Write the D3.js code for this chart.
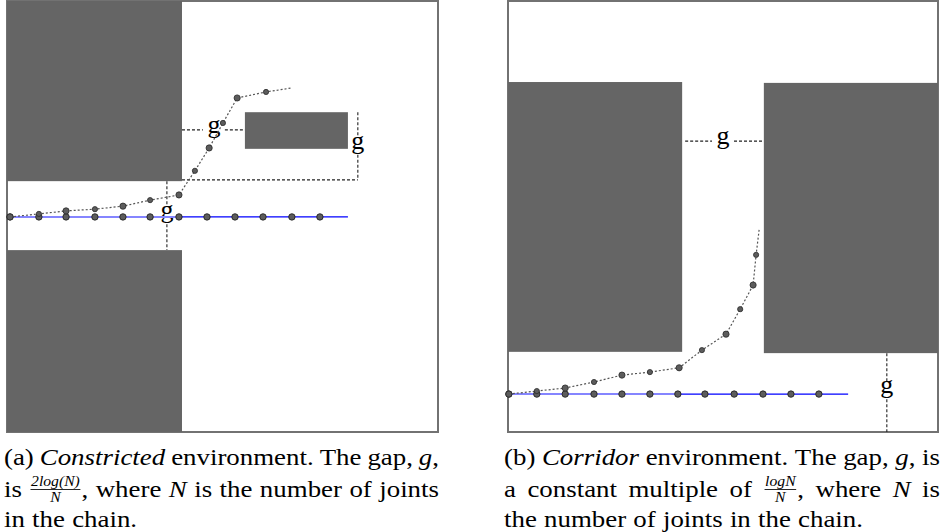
<!DOCTYPE html>
<html>
<head>
<meta charset="utf-8">
<script src="https://cdn.jsdelivr.net/npm/d3@7"></script>
<style>
  body { margin: 0; background: #fff; }
  svg { display: block; }
</style>
</head>
<body>
<svg id="fig"></svg>
<script>
"use strict";

// environment coordinates: each panel is 0..100 in both directions (y pointing down)

// (a) constricted environment
var constrictedBlocks = [
  [0, 0, 40.6, 41.8],
  [0, 57.8, 40.6, 100],
  [55.2, 25.8, 79.1, 34.3]
];
// dimension lines: x1, y1, x2, y2, label u, label v (null = no label)
var constrictedDims = [
  [40.6, 29.9, 55.2, 29.9, 48.0, 29.9],
  [81.4, 25.8, 81.4, 41.5, 81.4, 33.6],
  [40.6, 41.5, 81.4, 41.5, null, null],
  [37.1, 41.8, 37.1, 57.8, 37.1, 49.7]
];
var constrictedStraightU = [0.7, 7.4, 13.7, 20.4, 26.9, 33.2, 39.9, 46.4, 52.9, 59.4, 66.1, 72.6];
var constrictedStraightV = 50.1;
var constrictedLineEnd = 79.1;
var constrictedBentU = [0.7, 7.4, 13.7, 20.4, 26.9, 33.2, 39.9, 43.6, 46.9, 50.1, 53.4, 60.1, 65.9];
var constrictedBentV = [50.1, 49.4, 48.7, 48.3, 47.6, 46.2, 45.0, 39.4, 34.1, 28.3, 22.5, 21.1, 20.2];

// (b) corridor environment
var corridorBlocks = [
  [0, 18.8, 40.5, 81.4],
  [59.5, 19.0, 100, 81.7]
];
var corridorDims = [
  [41.2, 32.5, 59.1, 32.5, 50.0, 32.5],
  [88.1, 81.7, 88.1, 100, 88.1, 90.3]
];
var corridorStraightU = [0.2, 6.7, 13.3, 20.0, 26.5, 33.0, 39.5, 45.8, 52.6, 59.3, 65.8, 72.3];
var corridorStraightV = 91.2;
var corridorLineEnd = 79.1;
var corridorBentU = [0.2, 6.7, 13.3, 20.0, 26.5, 33.0, 39.8, 45.1, 50.7, 54.0, 57.0, 57.7, 58.4];
var corridorBentV = [91.2, 90.5, 89.8, 88.4, 86.8, 86.1, 85.1, 81.0, 77.3, 71.5, 65.9, 58.9, 53.1];

// captions: "|" splits a word into pieces, "_" = italic, "frac:num/den" = fraction
var captionA = [
  ["(a)", "_Constricted", "environment.", "The", "gap,", "_g|,"],
  ["is", "frac:2log(N)/N|,", "where", "_N", "is", "the", "number", "of", "joints"],
  ["in", "the", "chain."]
];
var captionB = [
  ["(b)", "_Corridor", "environment.", "The", "gap,", "_g|,", "is"],
  ["a", "constant", "multiple", "of", "frac:logN/N|,", "where", "_N", "is"],
  ["the", "number", "of", "joints", "in", "the", "chain."]
];

var FONT = "'Liberation Serif', 'DejaVu Serif', serif";
var svg = d3.select("#fig").attr("width", 950).attr("height", 532);

function drawPanel(box, blocks, dims, straightU, straightV, lineEnd, bentU, bentV) {
  var xs = d3.scaleLinear().domain([0, 100]).range([box.x, box.x + box.w]);
  var ys = d3.scaleLinear().domain([0, 100]).range([box.y, box.y + box.h]);
  var g = svg.append("g");

  g.append("rect")
    .attr("x", xs(0)).attr("y", ys(0))
    .attr("width", xs(100) - xs(0)).attr("height", ys(100) - ys(0))
    .style("fill", "#fff").style("stroke", "#727272").style("stroke-width", 2);

  g.selectAll("rect.block").data(blocks).enter().append("rect")
    .attr("class", "block")
    .attr("x", function (d) { return xs(d[0]); })
    .attr("y", function (d) { return ys(d[1]); })
    .attr("width", function (d) { return xs(d[2]) - xs(d[0]); })
    .attr("height", function (d) { return ys(d[3]) - ys(d[1]); })
    .style("fill", "#656565");

  // dimension lines, broken around the "g" label
  dims.forEach(function (d) {
    var x1 = xs(d[0]), y1 = ys(d[1]), x2 = xs(d[2]), y2 = ys(d[3]);
    var segs = [[x1, y1, x2, y2]];
    if (d[4] !== null) {
      var lx = xs(d[4]), ly = ys(d[5]);
      var horiz = y1 === y2;
      var gap = horiz ? 11 : 9;
      segs = horiz
        ? [[x1, y1, lx - gap, y1], [lx + gap, y1, x2, y2]]
        : [[x1, y1, x1, ly - gap], [x1, ly + gap, x2, y2]];
      g.append("text")
        .attr("x", lx).attr("y", ly + 0.12 * 26)
        .attr("text-anchor", "middle")
        .style("font-family", FONT).style("font-size", "26px")
        .style("fill", "#000")
        .text("g");
    }
    segs.forEach(function (s) {
      g.append("line")
        .attr("x1", s[0]).attr("y1", s[1]).attr("x2", s[2]).attr("y2", s[3])
        .style("stroke", "#222").style("stroke-width", 1.1)
        .style("stroke-dasharray", "3,2");
    });
  });

  // straight (initial) chain along the blue line
  g.append("line")
    .attr("x1", xs(straightU[0])).attr("x2", xs(lineEnd))
    .attr("y1", ys(straightV)).attr("y2", ys(straightV))
    .style("stroke", "#0000ff").style("stroke-width", 1.3);
  g.append("line")
    .attr("x1", xs(straightU[0])).attr("x2", xs(straightU[6]))
    .attr("y1", ys(straightV)).attr("y2", ys(straightV))
    .style("stroke", "#8585ff").style("stroke-width", 2);

  // bent chain
  var bent = bentU.map(function (u, i) { return [u, bentV[i]]; });
  var line = d3.line().x(function (d) { return xs(d[0]); }).y(function (d) { return ys(d[1]); });
  g.append("path")
    .attr("d", line(bent))
    .style("fill", "none").style("stroke", "#555").style("stroke-width", 1.2)
    .style("stroke-dasharray", "2,2");

  g.selectAll("circle.joint").data(straightU).enter().append("circle")
    .attr("class", "joint")
    .attr("cx", function (d) { return xs(d); })
    .attr("cy", ys(straightV))
    .attr("r", 3.2)
    .style("fill", "#5c5c5c").style("stroke", "#222").style("stroke-width", 0.9);

  g.selectAll("circle.bent").data(bent.slice(0, bent.length - 1)).enter().append("circle")
    .attr("class", "bent")
    .attr("cx", function (d) { return xs(d[0]); })
    .attr("cy", function (d) { return ys(d[1]); })
    .attr("r", function (d, i) { return i % 2 === 1 ? 2.6 : 3.1; })
    .style("fill", "#5c5c5c").style("stroke", "#2a2a2a").style("stroke-width", 0.8);
}

drawPanel({x: 7, y: 1, w: 431, h: 431}, constrictedBlocks, constrictedDims,
  constrictedStraightU, constrictedStraightV, constrictedLineEnd, constrictedBentU, constrictedBentV);
drawPanel({x: 508, y: 1, w: 430, h: 431}, corridorBlocks, corridorDims,
  corridorStraightU, corridorStraightV, corridorLineEnd, corridorBentU, corridorBentV);

// ---- captions ----
var CAP_SIZE = 24;
var STRETCH = 1.12;

function drawWord(g, word) {
  var x = 0;
  word.split("|").forEach(function (seg) {
    if (seg.indexOf("frac:") === 0) {
      var parts = seg.slice(5).split("/");
      var fg = g.append("g");
      var nt = fg.append("text").style("font-size", "14px").style("font-style", "italic").text(parts[0]);
      var dt = fg.append("text").style("font-size", "14px").style("font-style", "italic").text(parts[1]);
      var w = Math.max(nt.node().getComputedTextLength(), dt.node().getComputedTextLength()) + 3;
      nt.attr("x", x + w / 2).attr("y", -11).attr("text-anchor", "middle");
      dt.attr("x", x + w / 2).attr("y", 5).attr("text-anchor", "middle");
      fg.append("line").attr("x1", x + 1).attr("x2", x + w - 1)
        .attr("y1", -7.5).attr("y2", -7.5)
        .style("stroke", "#000").style("stroke-width", 0.8);
      x += w;
    } else {
      var italic = seg.charAt(0) === "_";
      var t = g.append("text").attr("x", x)
        .style("font-style", italic ? "italic" : "normal")
        .text(italic ? seg.slice(1) : seg);
      x += t.node().getComputedTextLength();
    }
  });
  return x;
}

function drawCaption(lines, x0, x1, baselines) {
  var cg = svg.append("g").style("font-family", FONT).style("font-size", CAP_SIZE + "px").style("fill", "#000");
  lines.forEach(function (words, li) {
    var groups = words.map(function (w) {
      var wg = cg.append("g");
      var width = drawWord(wg, w) * STRETCH;
      return {g: wg, w: width};
    });
    var total = d3.sum(groups, function (d) { return d.w; });
    var last = li === lines.length - 1;
    var gap = last ? CAP_SIZE * 0.3 : (x1 - x0 - total) / (groups.length - 1);
    var x = x0;
    groups.forEach(function (d) {
      d.g.attr("transform", "translate(" + x + "," + baselines[li] + ") scale(" + STRETCH + ",1)");
      x += d.w + gap;
    });
  });
}

drawCaption(captionA, 4, 439, [465, 497, 527]);
drawCaption(captionB, 504, 940, [465, 497, 527]);
</script>
</body>
</html>
